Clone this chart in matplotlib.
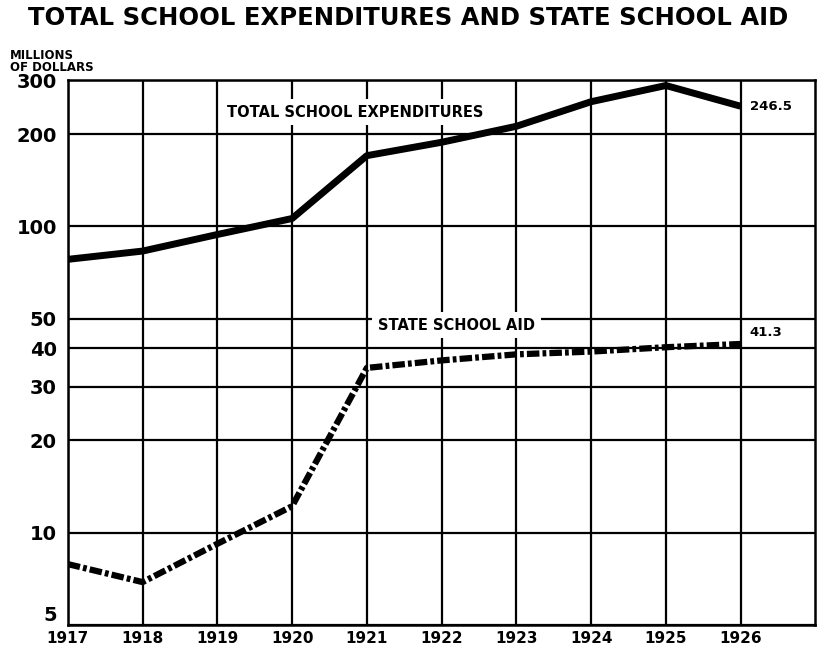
import matplotlib.pyplot as plt
from matplotlib.ticker import FixedLocator, NullLocator

years = [1917, 1918, 1919, 1920, 1921, 1922, 1923, 1924, 1925, 1926]
total_exp = [78, 83, 94, 106, 170, 188, 212, 255, 288, 246.5]
state_aid = [7.9, 6.9, 9.2, 12.2, 34.5, 36.5, 38.2, 39.0, 40.3, 41.3]
y_ticks = [5, 10, 20, 30, 40, 50, 100, 200, 300]

fig = plt.figure(figsize=(8.17, 6.51), dpi=100)
ax = fig.add_axes([0.083, 0.04, 0.915, 0.837])

ax.set_yscale('log')
ax.set_xlim(1917, 1927)
ax.set_ylim(5, 300)

ax.yaxis.set_major_locator(FixedLocator(y_ticks))
ax.yaxis.set_minor_locator(NullLocator())
ax.set_yticklabels([str(v) for v in y_ticks], fontsize=14, fontweight='bold')
ax.set_xticks(years)
ax.set_xticklabels([str(y) for y in years], fontsize=11, fontweight='bold')
ax.tick_params(axis='y', length=0, pad=8)
ax.tick_params(axis='x', length=0, pad=4)
ax.grid(True, color='black', linewidth=1.6)
for s in ax.spines.values():
    s.set_linewidth(1.8)

# keep the bottom "5" clear of the 1917 label
ax.yaxis.get_major_ticks()[0].label1.set_verticalalignment('bottom')

ax.plot(years, total_exp, color='black', linewidth=5, solid_capstyle='butt', zorder=3)
ax.plot(years, state_aid, color='black', linewidth=4.5,
        dashes=(2.0, 0.5, 0.6, 0.5), dash_capstyle='butt', zorder=3)

box = dict(facecolor='white', edgecolor='none', pad=4)
ax.text(1920.84, 236, 'TOTAL SCHOOL EXPENDITURES', fontsize=10.5, fontweight='bold',
        ha='center', va='center', bbox=box, zorder=4)
ax.text(1922.2, 47.5, 'STATE SCHOOL AID', fontsize=10.5, fontweight='bold',
        ha='center', va='center', bbox=box, zorder=4)
ax.text(1926.12, 246.5, '246.5', fontsize=9.5, fontweight='bold',
        ha='left', va='center', bbox=box, zorder=4)
ax.text(1926.12, 45, '41.3', fontsize=9.5, fontweight='bold',
        ha='left', va='center', bbox=box, zorder=4)

fig.text(0.5, 0.972, 'TOTAL SCHOOL EXPENDITURES AND STATE SCHOOL AID',
         fontsize=17.5, fontweight='bold', ha='center', va='center')
fig.text(0.012, 0.905, 'MILLIONS\nOF DOLLARS', fontsize=8.5, fontweight='bold',
         ha='left', va='center', linespacing=0.9)

fig.savefig('out.png', dpi=100)
